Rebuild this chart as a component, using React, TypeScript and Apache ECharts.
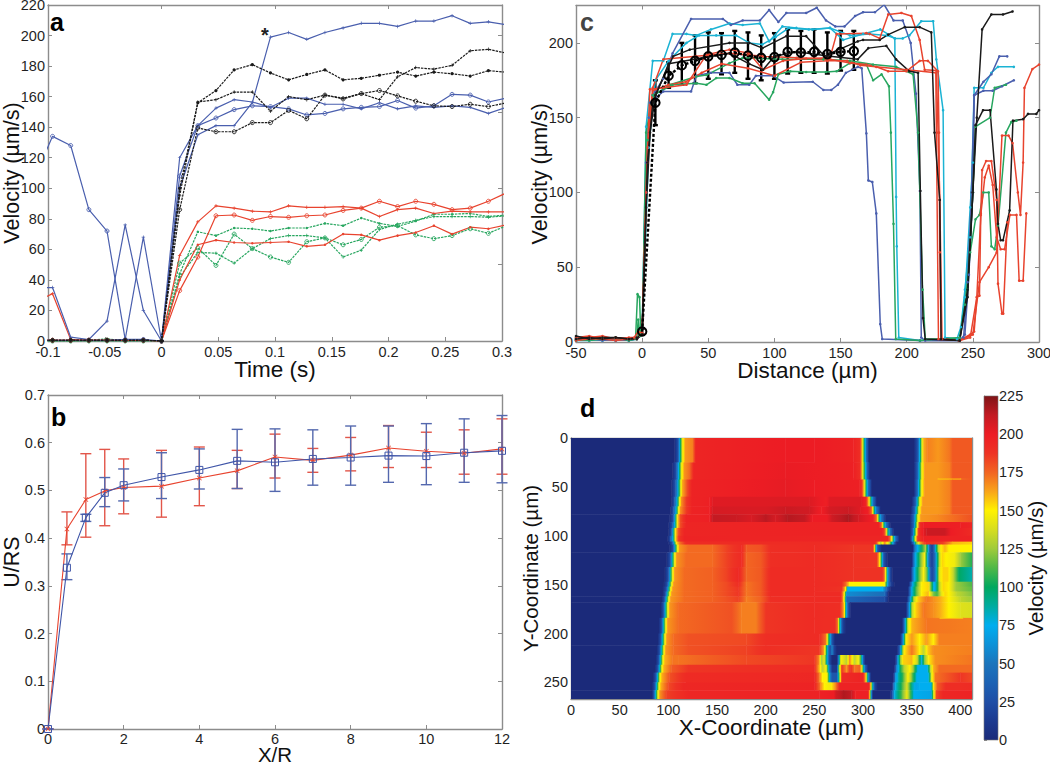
import React, { useEffect, useRef } from "react";
import * as echarts from "echarts";

const FONT = '"Liberation Sans", Arial, sans-serif';
const BLUE = "#4a5fae";
const BLACK = "#1a1a1a";
const RED = "#e8432e";
const GREEN = "#27a65f";
const CYAN = "#1bb3d4";

// ---------- Panel a ----------
const timeS = [-0.112, -0.096, -0.08, -0.064, -0.048, -0.032, -0.016, 0, 0.016, 0.032, 0.048, 0.064, 0.08, 0.096, 0.112, 0.128, 0.144, 0.16, 0.176, 0.192, 0.208, 0.224, 0.24, 0.256, 0.272, 0.288, 0.304];
const aBlue1 = [0.5, 0.5, 0.5, 0.5, 0.5, 1, 68, 0, 100, 135, 141, 141, 156, 199, 202, 197.5, 202, 205, 208, 208, 206, 209.5, 209.5, 213, 208, 209, 207];
const aBlue2 = [107, 134, 128, 86, 72, 1, 1, 0, 108, 141, 146, 151.5, 154, 153.5, 152, 148, 149, 152, 153, 153.5, 157.5, 152.5, 154, 161.5, 161, 156.5, 159];
const aBlue3 = [35, 35, 2.5, 1, 13, 76, 20, 0, 120, 141, 152.5, 158, 156.5, 153, 159, 159, 155, 155, 152, 156, 152, 154, 153, 154, 153, 149, 153];
const aBlack1 = [0.5, 0.5, 0.5, 0.5, 0.5, 0.5, 0.5, 0, 100, 156, 164, 177.5, 181, 175.5, 171, 174.5, 177.5, 171, 172, 174, 176, 173.5, 176, 175, 173.5, 177, 176];
const aBlack2 = [0.5, 0.5, 0.5, 0.5, 0.5, 0.5, 0.5, 0, 95, 156.5, 158, 163, 163, 150.5, 160, 158, 161, 159, 162, 158, 173, 179, 178, 180.5, 190, 191, 188.5];
const aBlack3 = [0.5, 0.5, 0.5, 0.5, 0.5, 0.5, 0.5, 0, 86, 139.5, 137, 137, 143, 143, 151, 145.5, 161, 158.5, 162, 164, 160.5, 157, 154, 153.5, 155, 153.5, 156];
const aRed1 = [25, 31, 1, 0.5, 0.5, 0.5, 0.5, 0, 56, 78, 88.5, 87, 85, 84.5, 88.5, 87.5, 87.5, 88, 87, 81.5, 86, 87, 83.5, 85, 84.5, 84.5, 84.5];
const aRed2 = [0.5, 0.5, 0.5, 0.5, 0.5, 0.5, 0.5, 0, 33, 55, 82, 82.5, 79, 81.5, 81, 82, 82.5, 85.5, 87, 91.5, 88, 91.5, 89.5, 86, 87, 91.5, 97];
const aRed3 = [0.5, 0.5, 0.5, 0.5, 0.5, 0.5, 0.5, 0, 40, 63, 66, 64.5, 64, 64.5, 65, 62, 63, 70, 69.5, 66, 69, 71, 75.5, 70, 74.5, 73.5, 76];
const aGreen1 = [0, 0, 0, 0.5, 1.5, 0, 0.5, 0, 44, 71.5, 69, 74, 73.5, 72, 74, 74, 77, 75.5, 80.5, 77, 75, 78.5, 83, 83, 83.5, 81.5, 82.5];
const aGreen2 = [0, 0, 0, 0, 0, 0, 0, 0, 42, 58, 57.5, 51, 60.5, 67, 69, 69, 67.5, 55, 59.5, 73, 76.5, 79, 81.5, 81.5, 81.5, 81, 82];
const aGreen3 = [0, 0, 0, 0, 0, 0, 0, 0, 51, 61, 49.5, 70, 60.5, 55, 51.5, 65, 67.5, 63, 66.5, 74.5, 75.5, 69.5, 67, 69, 73.5, 70.5, 75.5];

// ---------- Panel b ----------
const xr = [0, 0.5, 1, 1.5, 2, 3, 4, 5, 6, 7, 8, 9, 10, 11, 12];
const bBlueMean = [0, 0.338, 0.443, 0.495, 0.511, 0.528, 0.543, 0.562, 0.559, 0.566, 0.569, 0.573, 0.572, 0.579, 0.583];
const bBlueHigh = [0, 0.367, 0.45, 0.527, 0.545, 0.579, 0.587, 0.628, 0.629, 0.627, 0.635, 0.635, 0.64, 0.65, 0.657];
const bBlueLow = [0, 0.313, 0.435, 0.466, 0.478, 0.483, 0.503, 0.504, 0.498, 0.511, 0.511, 0.517, 0.512, 0.517, 0.516];
const bRedMean = [0, 0.419, 0.481, 0.499, 0.506, 0.509, 0.526, 0.541, 0.57, 0.563, 0.574, 0.589, 0.582, 0.578, 0.587];
const bRedHigh = [0, 0.455, 0.577, 0.586, 0.566, 0.584, 0.591, 0.584, 0.618, 0.588, 0.611, 0.636, 0.622, 0.627, 0.65];
const bRedLow = [0, 0.386, 0.402, 0.426, 0.451, 0.444, 0.468, 0.504, 0.526, 0.538, 0.541, 0.548, 0.548, 0.534, 0.534];

// ---------- Panel c ----------
const cBlue1 = [[-50,2],[-40,3],[-30,2],[-20,1],[-10,2],[-4,2],[0,5],[3,100],[5,150],[8,165],[16,176],[23,193],[37,216],[61,216],[67,212],[76,215],[89,215],[96,222],[103,214],[109,220],[124,220],[132,223.5],[139,215],[146,211],[153,211],[161,218],[167,220.5],[176,220.5],[183,225.5],[190,215],[197,215],[203,200],[207,166],[210,101],[211,3],[214,1],[240,1],[243,3],[246,40],[249,100],[251,165],[258,174],[264,179],[270,191],[276,191]];
const cBlue2 = [[-50,1],[-40,2],[-30,1],[-20,2],[-10,1],[-4,2],[0,5],[3,120],[6,160],[16,167.5],[37,167.5],[41,178],[52,180],[66,180],[72,172],[81,172],[86,178],[99,178],[107,173.5],[129,174],[137,168.5],[143,168.5],[148,172],[154,180],[163,184],[166,183],[169.5,139.5],[171,108],[174,107],[177,86],[180,12],[181.5,2],[210,1],[240,1],[244,5],[247,45],[250,100],[251,165],[258,168],[265,168],[272,171],[281,175]];
const cCyan1 = [[-50,1],[-40,1],[-30,2],[-20,1],[-10,2],[-4,3],[0,5],[3,144],[8,188],[16,188],[23,206],[33.5,206],[41,205],[52,209],[66,213],[76,212],[89,213],[96,201],[106,211],[116.6,210],[129,209],[142,210],[152,202],[167,206],[180,209],[191,203],[192,97],[192.5,64],[194,3],[210,1],[238,2],[241,10],[244,35],[248,70],[251,170],[258,170],[264,180],[269,184],[281,184]];
const cCyan2 = [[-50,3],[-40,2],[-30,1],[-20,2],[-10,1],[-4,2],[0,5],[5,130],[10,175],[20,188],[33.5,200],[43,205],[56,205],[71,205],[81,200],[91,199],[101,204],[111,210],[126,209],[142,210],[157,205],[172,206],[185,205],[191,203],[197,203],[202,205],[211,214.5],[220,214.5],[222.4,189],[227.5,155],[229,3],[240,2],[244,30],[248,90],[250,120]];
const cGreen1 = [[-50,2],[-40,1],[-30,2],[-20,3],[-10,1],[-5,2],[-3.5,32],[-2,30],[-1,5],[0,5],[3,140],[8,165],[23,172],[41,173],[48.6,172],[56,176.5],[66,176.5],[76,173],[85,173],[96,162],[99,167],[103,179],[112,181],[124,180.5],[139,180.5],[147,181],[157,186.5],[169.5,185.5],[174.6,175],[181,179],[186.6,171],[188,140],[190,79],[191.7,2],[210,1],[240,3],[244,25],[248,60],[252,82],[255,85],[258,100],[262,100],[264,64],[266.5,62],[269,78],[275,140],[279,147],[283,148]];
const cGreen2 = [[-50,1],[-40,2],[-30,3],[-20,2],[-10,2],[-4,2],[-3,15],[-1.5,4],[0,5],[4,135],[9,165],[21,172],[41,177.5],[48.6,178.5],[66,186.5],[76,190],[106,189],[137,189],[157,188],[174.6,185.5],[192,184],[204.8,179],[208.6,140],[212,35],[214,2],[240,2],[246,35],[250,100],[252,144],[263,150],[266.5,170],[275,172]];
const cRed1 = [[-50,3],[-40,4],[-30,2],[-20,3],[-10,2],[-6,3],[-3,7],[0,6],[3,100],[5.8,169],[16,170],[33.5,172],[48.6,192],[66,195.5],[81,193],[91.4,182],[106.5,188],[124,189.5],[142,190],[147,206],[169.5,206.5],[172,206],[179.6,203],[186,219],[196,220],[203.5,218],[209.8,202],[213.6,182],[222.4,181.5],[223.7,140],[225,95],[226.7,2],[240,1],[248,5],[251,7],[253,30],[255,31],[256,86],[257,115],[260,121],[264,121],[268,95],[269,39],[272,19],[273,19],[276,80]];
const cRed2 = [[-50,2],[-40,3],[-30,4],[-20,2],[-10,3],[-4,3],[0,6],[4,130],[8,170],[16,189],[41,191],[66,193],[91.4,191],[116.6,190],[142,189],[157,186.5],[169.5,185.5],[177,184],[186,181],[199.7,181],[209.8,188],[216,188],[223.7,181],[224.4,140],[225,60],[226,2],[240,1],[248,3],[253,30],[256,85],[259,110],[262,118],[265,105],[268,70],[271,62],[274,62],[278,85],[283,85],[285,41],[288,41],[290.4,86]];
const cRed3 = [[-50,1],[-40,2],[-30,2],[-20,1],[-10,2],[-4,2],[0,5],[4,120],[8,168],[20,172],[33,174],[45,180],[60,186],[80,183],[100,178],[120,187],[140,188],[155,188],[165,185],[200,182],[222,180],[224,2],[240,1],[250,5],[255,40],[262,50],[268,60],[272,138],[277,138],[280,133],[284,100],[286,85],[288,120],[289,170],[295,182.5],[300,185.5]];
const cBlack1 = [[-50,4],[-40,2],[-30,3],[-20,3],[-10,2],[-4,3],[0,5],[3,90],[6,140],[10,165],[23.4,191],[36,195.5],[66,200],[81,200],[91,196.5],[109,204.5],[124,204.5],[139,190],[142,193],[163,201],[167,202],[179.6,202],[186,205.5],[198.5,210.5],[209.8,210.5],[218.6,207],[221,140],[225,95],[226,2],[240,1],[246,30],[250,100],[252,145],[257.7,155],[263,155],[267.8,102],[269,79],[271,68],[272.8,68],[277.8,88],[280.3,148],[288,149],[291.7,152.5],[298,152.5],[300,155]];
const cBlack2 = [[-50,2],[-40,3],[-30,2],[-20,3],[-10,2],[-4,2],[0,5],[4,120],[8,160],[20,186],[46,190],[66,193],[81,186],[91.4,182],[100,191],[116.6,194],[142,191],[163,189],[171,196.5],[184.6,198],[192,189],[202,181],[208.6,180],[210.3,101],[212.3,16],[214,2],[240,1],[246,35],[250,100],[253,150],[257,209],[264,219],[272.8,219],[280,221]];
const cMeanX = [0, 10, 20, 30, 40, 50, 60, 70, 80, 90, 100, 110, 120, 130, 140, 150, 160];
const cMean = [7, 160, 178, 185, 188, 191, 192, 193.5, 191.5, 190, 190.5, 194, 193.5, 194, 192.5, 194, 194.5];
const cHigh = [9, 175, 187, 200, 205, 207, 206.5, 208, 207, 205, 206.5, 209, 208, 209, 207, 208, 208];
const cLow = [5, 145, 170, 172, 173, 176, 179, 180, 176, 175, 176, 179.5, 180, 180, 179.5, 181.5, 182];

// ---------- Panel d ----------
const heatRowEdges = [0, 25, 41.5, 42.5, 60, 70, 78, 86, 92, 100, 106, 109, 117, 132, 147, 152, 157, 162, 168, 184, 185, 200, 212, 222, 232, 240, 250, 258, 267];
const heatRowKnots = [
  [0,0,106,0,110,30,112,90,114,140,117,165,125,170,128,195,160,197,220,200,250,200,290,197,297,190,299,150,301,100,303,50,306,0,352,0,356,30,358,75,360,130,362,160,366,170,377,165,389,172,392,178,412,178],
  [0,0,104,0,108,30,111,90,113,140,116,165,122,175,126,195,220,201,290,198,297,190,299,150,302,90,304,40,307,0,352,0,356,40,358,90,360,140,363,165,377,165,389,170,392,178,412,178],
  [0,0,104,0,108,30,111,90,113,140,116,165,122,175,126,195,220,201,290,198,297,190,299,150,302,90,304,40,307,0,352,0,356,40,358,90,360,140,363,165,376,165,377,156,400,156,401,172,412,178],
  [0,0,103,0,107,30,110,80,112,130,114,160,119,180,124,196,220,202,250,200,296,198,299,185,301,150,303,100,305,50,309,0,352,0,356,50,358,100,360,145,363,165,377,165,389,170,392,178,412,178],
  [0,0,103,0,106,30,109,80,111,140,113,165,118,185,124,196,142,198,145,204,245,205,262,198,265,204,298,205,303,195,306,150,308,100,310,50,314,0,350,0,354,40,356,90,358,140,361,165,377,165,389,170,392,178,412,178],
  [0,0,102,0,105,30,108,80,110,140,112,165,118,185,124,196,142,198,145,207,200,206,220,210,245,208,257,198,265,207,285,210,297,204,305,198,309,170,311,110,313,60,318,0,349,0,353,40,355,90,357,140,360,165,377,165,389,170,392,178,412,178],
  [0,0,101,0,105,30,107,90,109,150,112,180,118,196,142,198,145,212,170,210,185,206,200,214,210,207,222,215,240,212,248,200,263,200,268,209,285,217,295,208,310,198,314,170,316,110,318,60,323,0,348,0,352,40,354,90,356,140,359,165,377,168,412,180],
  [0,0,100,0,104,30,107,90,109,150,112,180,118,195,316,197,319,170,321,110,323,60,328,0,348,0,352,40,354,100,356,150,358,190,362,200,400,198,412,195],
  [0,0,100,0,103,30,105,90,107,150,110,180,116,195,320,197,323,170,325,110,327,60,331,0,348,0,351,40,353,100,355,150,357,190,362,202,365,210,384,210,390,200,412,192],
  [0,0,99,0,102,30,105,90,107,150,110,185,116,196,326,195,329,150,331,100,333,50,337,0,348,0,350,40,352,100,354,150,356,185,362,198,412,196],
  [0,0,100,0,104,30,106,90,108,150,111,170,118,192,312,192,314,180,318,130,322,170,327,130,331,60,334,0,349,0,352,50,354,110,358,160,364,190,382,185,392,160,412,155],
  [0,0,101,0,105,30,107,90,109,140,111,165,120,174,145,174,160,184,175,192,180,178,195,180,205,190,250,192,290,187,310,187,312,150,313,90,315,30,319,0,351,0,353,50,356,75,360,100,364,130,367,70,369,20,372,20,374,70,377,130,380,150,384,160,388,150,412,150],
  [0,0,98,0,102,30,104,90,106,140,108,165,118,174,145,174,160,184,175,192,180,175,195,178,205,190,250,192,290,188,314,187,317,150,319,90,321,30,325,0,350,0,352,50,354,75,358,110,363,150,366,80,369,20,372,20,375,70,378,130,381,155,385,150,394,145,400,125,412,105],
  [0,0,96,0,100,30,102,90,104,140,106,165,116,174,145,176,160,184,172,194,180,175,195,178,205,192,250,192,290,188,320,188,322,170,323,150,325,80,327,30,330,0,349,0,351,50,353,75,357,110,362,150,366,110,369,30,372,20,375,70,378,140,382,155,387,155,393,130,398,100,412,85],
  [0,0,95,0,99,30,101,90,103,140,105,165,116,174,145,176,160,182,172,190,180,172,195,178,205,192,250,192,278,190,283,170,286,150,322,150,325,70,328,20,332,0,347,0,349,40,351,75,355,110,360,150,367,155,372,80,374,70,378,130,382,155,388,150,395,125,412,112],
  [0,0,94,0,98,30,100,90,102,140,104,165,116,174,145,176,160,182,172,187,180,172,195,178,205,192,250,192,278,188,282,150,284,75,320,75,324,40,328,0,346,0,348,40,350,75,354,110,360,150,367,155,372,80,374,70,378,130,382,155,388,150,395,125,412,115],
  [0,0,94,0,97,30,99,90,101,140,103,165,116,174,145,176,160,182,172,187,180,172,195,178,205,192,250,192,277,192,279,170,281,140,283,60,322,45,326,0,346,0,348,40,350,75,354,110,360,150,367,160,372,120,376,110,380,140,384,155,388,150,396,132,412,120],
  [0,0,93,0,96,30,98,90,100,140,102,165,116,174,145,176,160,180,172,184,180,170,195,176,205,190,250,192,277,192,279,170,281,130,283,40,322,25,326,0,345,0,347,40,349,75,352,130,356,155,365,172,372,167,380,160,388,150,400,132,412,125],
  [0,0,92,0,95,30,97,90,99,140,101,165,110,174,165,180,175,170,190,170,200,187,250,192,276,190,279,170,281,150,282,90,284,40,287,0,344,0,346,40,348,75,350,130,354,155,362,172,372,167,380,160,388,150,400,140,412,138],
  [0,0,90,0,93,30,95,90,97,140,99,165,110,174,165,180,175,170,190,170,200,187,250,192,271,190,274,170,275,130,277,60,279,20,282,0,340,0,342,40,344,90,346,140,350,160,365,172,378,170,379,156,402,156,403,170,412,170],
  [0,0,90,0,93,30,95,90,97,140,99,165,110,174,165,180,175,170,190,170,200,187,250,192,271,190,274,170,275,130,277,60,279,20,282,0,340,0,342,40,344,90,346,140,350,160,365,172,412,170],
  [0,0,89,0,92,30,94,90,96,140,98,165,105,174,120,180,180,182,200,190,255,192,262,170,264,120,266,75,268,30,271,0,338,0,340,40,342,90,344,150,350,165,358,150,365,165,372,150,378,170,412,170],
  [0,0,88,0,91,30,93,90,95,140,97,165,105,174,120,180,180,184,200,190,255,187,260,160,262,110,264,60,266,20,268,60,270,20,273,0,335,0,338,50,340,110,342,150,350,172,358,150,362,130,366,155,372,167,412,170],
  [0,0,87,0,90,30,92,90,94,140,96,160,104,172,110,172,180,182,250,187,255,165,257,125,260,145,262,100,265,30,268,0,273,0,275,60,277,150,283,130,286,170,291,130,295,150,298,100,300,40,302,0,333,0,335,50,338,120,341,155,350,160,356,130,360,75,363,120,367,150,374,167,412,172],
  [0,0,86,0,89,30,91,90,93,140,95,160,103,177,120,187,250,192,256,150,258,130,262,150,265,60,268,10,273,10,275,120,278,187,283,165,287,192,291,172,297,177,300,100,302,40,305,0,332,0,334,50,338,100,342,130,348,150,352,120,356,75,366,75,369,130,372,160,378,174,412,174],
  [0,0,84,0,87,30,89,90,91,140,93,160,101,180,118,192,250,194,255,170,258,150,263,150,266,60,268,30,273,30,275,100,278,192,300,196,303,150,305,70,308,0,331,0,333,60,336,85,341,110,346,150,350,120,355,75,367,75,370,140,374,172,400,187,412,182],
  [0,0,83,0,86,30,88,90,90,140,92,160,100,182,115,194,250,196,256,170,260,150,266,145,272,170,276,196,306,196,308,150,310,70,312,20,315,0,330,0,331,40,333,75,340,110,345,140,350,90,354,70,358,75,370,75,372,150,376,177,385,190,412,192],
  [0,0,83,0,85,30,87,90,89,140,91,165,98,184,120,194,255,197,270,200,272,208,280,216,288,212,292,198,305,198,307,150,308,80,310,0,328,0,330,30,332,75,340,115,345,145,352,75,370,70,372,130,375,182,382,194,412,196],
];
const jetColors = ["#1b2a7a", "#1c3a90", "#1f4ea6", "#1c62b4", "#1b75bc", "#0d92d8", "#00aeef", "#00aca0", "#00a85f", "#4fb848", "#9fcb3b", "#d6dd20", "#fff200", "#f9a51a", "#f26522", "#ee3324", "#ed1c24", "#c21a22", "#7f1416"];

function jet(v: number): string {
  const clamped = Math.max(0, Math.min(225, v));
  return echarts.color.lerp(clamped / 225, jetColors) as string;
}

const pairs = (xs: number[], ys: number[]) => xs.map((x, i) => [x, ys[i]]);
const CROSS = "path://M4 0H6V4H10V6H6V10H4V6H0V4H4Z";
const XMARK = "path://M0 1L1 0L5 4L9 0L10 1L6 5L10 9L9 10L5 6L1 10L0 9L4 5Z";

function axisPair(grid: number, dir: "x" | "y", base: any, tick: boolean) {
  const common = {
    gridIndex: grid,
    type: "value",
    splitLine: { show: false },
    axisLine: { show: true, onZero: false, lineStyle: { color: "#8c8c8c", width: 1.4 } },
    axisTick: { show: tick, inside: true, length: 4, lineStyle: { color: "#8c8c8c" }, customValues: base.customValues },
  };
  const { customValues, labelMargin, nameSize, ...rest } = base;
  return [
    {
      ...common,
      ...rest,
      position: dir === "x" ? "bottom" : "left",
      axisLabel: {
        show: true,
        color: "#1f1f1f",
        fontFamily: FONT,
        fontSize: 14.5,
        margin: labelMargin,
        hideOverlap: false,
        showMinLabel: true,
        showMaxLabel: true,
        customValues,
      },
      nameTextStyle: { color: "#111", fontFamily: FONT, fontSize: nameSize },
      nameLocation: "middle",
      nameMoveOverlap: false,
    },
    {
      ...common,
      min: base.min,
      max: base.max,
      inverse: base.inverse,
      position: dir === "x" ? "top" : "right",
      axisLabel: { show: false },
    },
  ];
}

function errorSeries(xAxisIndex: number, yAxisIndex: number, xs: number[], hi: number[], lo: number[], color: string, width: number, cap: number): any {
  return {
    type: "custom",
    xAxisIndex,
    yAxisIndex,
    silent: true,
    data: xs.map((x, i) => [x, lo[i], hi[i]]),
    encode: { x: 0, y: [1, 2] },
    renderItem: (_p: any, api: any) => {
      const a = api.coord([api.value(0), api.value(1)]);
      const b = api.coord([api.value(0), api.value(2)]);
      const s = { stroke: color, lineWidth: width, fill: "none" };
      return {
        type: "group",
        children: [
          { type: "line", shape: { x1: a[0], y1: a[1], x2: b[0], y2: b[1] }, style: s },
          { type: "line", shape: { x1: a[0] - cap, y1: a[1], x2: a[0] + cap, y2: a[1] }, style: s },
          { type: "line", shape: { x1: b[0] - cap, y1: b[1], x2: b[0] + cap, y2: b[1] }, style: s },
        ],
      };
    },
  };
}

function buildOption(): any {
  const xAxis: any[] = [];
  const yAxis: any[] = [];
  const series: any[] = [];

  xAxis.push(...axisPair(0, "x", { min: -0.1, max: 0.3, interval: 0.05, name: "Time (s)", nameGap: 17, nameSize: 22.5, labelMargin: 3 }, true));
  yAxis.push(...axisPair(0, "y", { min: 0, max: 220, interval: 20, name: "Velocity (µm/s)", nameGap: 25, nameSize: 21.5, labelMargin: 3 }, true));
  xAxis.push(...axisPair(1, "x", { min: 0, max: 12, interval: 2, name: "X/R", nameGap: 15, nameSize: 20.5, labelMargin: 2 }, true));
  yAxis.push(...axisPair(1, "y", { min: 0, max: 0.7, interval: 0.1, name: "U/RS", nameGap: 25, nameSize: 21.5, labelMargin: 3 }, true));
  xAxis.push(...axisPair(2, "x", { min: -50, max: 300, interval: 50, name: "Distance (µm)", nameGap: 17, nameSize: 22.5, labelMargin: 3 }, true));
  yAxis.push(...axisPair(2, "y", { min: 0, max: 225, customValues: [0, 50, 100, 150, 200], name: "Velocity (µm/s)", nameGap: 25, nameSize: 21.5, labelMargin: 3 }, true));
  xAxis.push(...axisPair(3, "x", { min: 0, max: 412, customValues: [0, 50, 100, 150, 200, 250, 300, 350, 400], name: "X-Coordinate (µm)", nameGap: 17, nameSize: 22.5, labelMargin: 3 }, false));
  yAxis.push(...axisPair(3, "y", { min: 0, max: 267, inverse: true, customValues: [0, 50, 100, 150, 200, 250], name: "Y-Coordinate (µm)", nameGap: 30, nameSize: 20.5, labelMargin: 3 }, false));

  // colour bar axes
  xAxis.push({ gridIndex: 4, type: "value", min: 0, max: 1, show: false });
  yAxis.push({
    gridIndex: 4,
    type: "value",
    min: 0,
    max: 225,
    interval: 25,
    position: "right",
    name: "Velocity (µm/s)",
    nameLocation: "middle",
    nameGap: 27,
    nameRotate: 90,
    nameMoveOverlap: false,
    nameTextStyle: { color: "#111", fontFamily: FONT, fontSize: 20.5 },
    splitLine: { show: false },
    axisLine: { show: true, lineStyle: { color: "#8c8c8c" } },
    axisTick: { show: true, length: 3, lineStyle: { color: "#8c8c8c" } },
    axisLabel: { color: "#1f1f1f", fontFamily: FONT, fontSize: 14.5, margin: 1 },
  });

  // Panel a
  const aLines: [number[], string, string, any, number][] = [
    [aGreen1, GREEN, "dashed", "circle", 2.5],
    [aGreen2, GREEN, "dashed", CROSS, 3.5],
    [aGreen3, GREEN, "dashed", "circle", 4],
    [aRed1, RED, "solid", CROSS, 3.5],
    [aRed2, RED, "solid", "circle", 4],
    [aRed3, RED, "solid", "circle", 2.5],
    [aBlue3, BLUE, "solid", CROSS, 3.5],
    [aBlue2, BLUE, "solid", "circle", 4],
    [aBlue1, BLUE, "solid", CROSS, 3.5],
    [aBlack1, BLACK, "dashed", "circle", 3.2],
    [aBlack2, BLACK, "dashed", CROSS, 3.5],
    [aBlack3, BLACK, "dashed", "circle", 4],
  ];
  aLines.forEach(([vals, color, type, symbol, size]) =>
    series.push({
      type: "line",
      xAxisIndex: 0,
      yAxisIndex: 0,
      data: pairs(timeS, vals),
      symbol,
      symbolSize: size,
      showSymbol: true,
      showAllSymbol: true,
      silent: true,
      lineStyle: { color, width: 1.2, type: type === "dashed" ? [2.5, 1] : "solid" },
      itemStyle: size === 4 ? { color: "rgba(255,255,255,0)", borderColor: color, borderWidth: 0.9 } : { color },
    })
  );

  // Panel b
  series.push(errorSeries(2, 2, xr, bRedHigh, bRedLow, "#e2564a", 1.4, 5.5));
  series.push(errorSeries(2, 2, xr, bBlueHigh, bBlueLow, "#5468ae", 1.4, 5.5));
  series.push({
    type: "line", xAxisIndex: 2, yAxisIndex: 2, data: pairs(xr, bRedMean), symbol: XMARK, symbolSize: 5, silent: true,
    lineStyle: { color: RED, width: 1.1 }, itemStyle: { color: RED },
  });
  series.push({
    type: "line", xAxisIndex: 2, yAxisIndex: 2, data: pairs(xr, bBlueMean), symbol: "rect", symbolSize: 7, silent: true,
    lineStyle: { color: "#3f55a8", width: 1.1 }, itemStyle: { color: "rgba(255,255,255,0)", borderColor: "#3f55a8", borderWidth: 1 },
  });

  // Panel c
  const cLines: [number[][], string][] = [
    [cCyan1, CYAN], [cCyan2, CYAN], [cBlue1, BLUE], [cBlue2, BLUE], [cGreen1, GREEN], [cGreen2, GREEN],
    [cRed1, RED], [cRed2, RED], [cRed3, RED], [cBlack1, BLACK], [cBlack2, BLACK],
  ];
  cLines.forEach(([pts, color]) =>
    series.push({
      type: "line", xAxisIndex: 4, yAxisIndex: 4, data: pts, symbol: "circle", symbolSize: 2.6, silent: true, showAllSymbol: true,
      lineStyle: { color, width: 1.5 }, itemStyle: { color },
    })
  );
  series.push(errorSeries(4, 4, cMeanX, cHigh, cLow, "#000", 2.4, 2.5));
  series.push({
    type: "line", xAxisIndex: 4, yAxisIndex: 4, data: pairs(cMeanX, cMean), symbol: "circle", symbolSize: 8.5, silent: true,
    lineStyle: { color: "#000", width: 2.4, type: [3, 2] }, itemStyle: { color: "rgba(255,255,255,0)", borderColor: "#000", borderWidth: 2 },
  });

  // Panel d
  const heatCells: number[][] = [];
  heatRowKnots.forEach((k, r) => {
    for (let i = 0; i + 3 < k.length; i += 2) {
      heatCells.push([k[i], k[i + 2], heatRowEdges[r], heatRowEdges[r + 1], k[i + 1], k[i + 3]]);
    }
  });
  series.push({
    type: "custom",
    xAxisIndex: 6,
    yAxisIndex: 6,
    silent: true,
    clip: true,
    z: 1,
    data: heatCells,
    encode: { x: [0, 1], y: [2, 3] },
    renderItem: (_p: any, api: any) => {
      const a = api.coord([api.value(0), api.value(2)]);
      const b = api.coord([api.value(1), api.value(3)]);
      const v0 = api.value(4);
      const v1 = api.value(5);
      const stops = [0, 0.25, 0.5, 0.75, 1].map((o) => ({ offset: o, color: jet(v0 + (v1 - v0) * o) }));
      return {
        type: "rect",
        shape: { x: a[0], y: a[1], width: b[0] - a[0] + 0.5, height: b[1] - a[1] + 0.5 },
        style: { fill: new echarts.graphic.LinearGradient(0, 0, 1, 0, stops), stroke: "none" },
      };
    },
  });

  // Colour bar
  series.push({
    type: "custom",
    xAxisIndex: 8,
    yAxisIndex: 8,
    silent: true,
    data: [[0, 0, 1, 225]],
    encode: { x: [0, 2], y: [1, 3] },
    renderItem: (_p: any, api: any) => {
      const a = api.coord([api.value(0), api.value(3)]);
      const b = api.coord([api.value(2), api.value(1)]);
      const stops = jetColors.map((color, i) => ({ offset: 1 - i / (jetColors.length - 1), color })).reverse();
      return {
        type: "rect",
        shape: { x: a[0], y: a[1], width: b[0] - a[0], height: b[1] - a[1] },
        style: { fill: new echarts.graphic.LinearGradient(0, 0, 0, 1, stops), stroke: "#777", lineWidth: 0.6 },
      };
    },
  });

  const label = (text: string, x: number, y: number, fill = "#000", fontSize = 25) => ({
    type: "text",
    x,
    y,
    z: 20,
    style: { text, fill, fontFamily: FONT, fontSize, fontWeight: "bold", verticalAlign: "middle", align: "left" },
  });

  return {
    animation: false,
    backgroundColor: "#fff",
    grid: [
      { left: 48, top: 5, width: 454, height: 336, outerBoundsMode: "none" },
      { left: 48, top: 395, width: 454, height: 334, outerBoundsMode: "none" },
      { left: 576, top: 5.5, width: 463, height: 336.5, outerBoundsMode: "none" },
      { left: 571, top: 438, width: 401, height: 261, outerBoundsMode: "none" },
      { left: 984, top: 396, width: 14, height: 344, outerBoundsMode: "none" },
    ],
    xAxis,
    yAxis,
    series,
    graphic: [
      label("a", 50, 22),
      label("b", 51, 417),
      label("c", 580, 22, "#444"),
      label("d", 580, 408),
      label("*", 261, 35, "#222", 20),
    ],
  };
}

export default function App() {
  const ref = useRef<HTMLDivElement>(null);
  useEffect(() => {
    const chart = echarts.init(ref.current!, undefined, { renderer: "svg" });
    chart.setOption(buildOption());
    return () => chart.dispose();
  }, []);
  return <div ref={ref} style={{ position: "fixed", left: 0, top: 0, width: 1050, height: 764, background: "#fff" }} />;
}
